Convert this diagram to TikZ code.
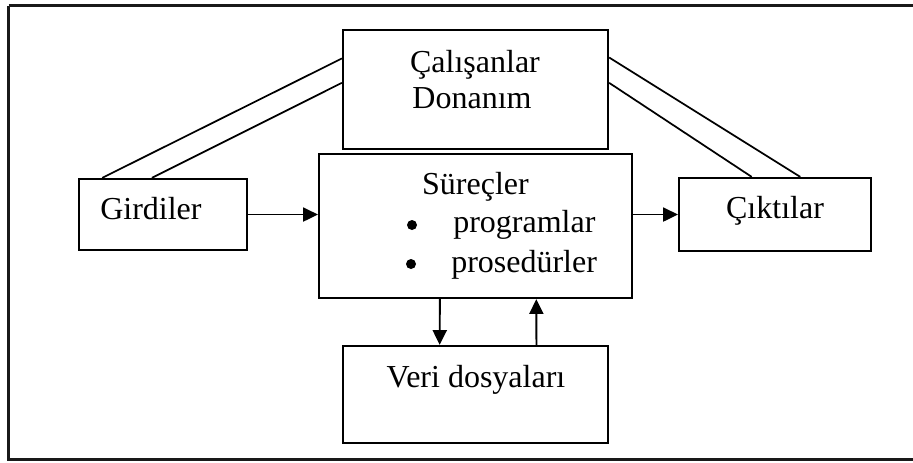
\documentclass[tikz,border=0pt]{standalone}
\usepackage{fontspec}
\setmainfont{Liberation Serif}
\usetikzlibrary{arrows.meta,calc}
\begin{document}
\begin{tikzpicture}[x=0.75pt,y=-0.75pt,
  box/.style={draw,line width=1.7pt,inner sep=0pt,rectangle},
  lbl/.style={inner sep=0pt,anchor=base,font=\fontsize{24}{28}\selectfont},
  dot/.style={circle,fill,inner sep=0pt,minimum size=7.5pt},
  link/.style={line width=1.3pt},
  flow/.style={line width=1.4pt,-{Triangle[length=11pt,width=10.5pt]}}]
  \useasboundingbox (0,0) rectangle (913,462);
  % outer frame, open past the right edge
  \draw[line width=2.2pt,black!90] (8.5,5.5) -- (925,5.5) (8.5,5.5) -- (8.5,459.5) -- (925,459.5);

  % boxes
  \node[box,minimum width=198.75pt,minimum height=89.25pt] (res) at (475.5,89.5) {};
  \node[box,minimum width=234.75pt,minimum height=108pt] (proc) at (475.5,226) {};
  \node[box,minimum width=126pt,minimum height=53.25pt] (inp) at (163,214.5) {};
  \node[box,minimum width=144pt,minimum height=54.75pt] (outp) at (775,214.5) {};
  \node[box,minimum width=198.75pt,minimum height=72.75pt] (data) at (475.5,394.5) {};

  % texts
  \node[lbl] (t1) at (475,72) {Çalışanlar};
  \node[lbl] (t2) at (472,108) {Donanım};
  \node[lbl] (t3) at (475.5,194) {Süreçler};
  \node[lbl,anchor=base west] (t4) at (453,232) {programlar};
  \node[lbl,anchor=base west] (t5) at (451,272) {prosedürler};
  \node[dot] (b1) at (412,225) {};
  \node[dot] (b2) at (411,264) {};
  \node[lbl,anchor=base west] (t6) at (100,219) {Girdiler};
  \node[lbl] (t7) at (775,218) {Çıktılar};
  \node[lbl] (t8) at (476,387) {Veri dosyaları};

  % double links from the resource box
  \draw[link] ($(res.north west)!0.244!(res.south west)$) -- ($(inp.north west)!0.143!(inp.north east)$);
  \draw[link] ($(res.north west)!0.445!(res.south west)$) -- ($(inp.north west)!0.435!(inp.north east)$);
  \draw[link] ($(res.north east)!0.236!(res.south east)$) -- ($(outp.north west)!0.63!(outp.north east)$);
  \draw[link] ($(res.north east)!0.445!(res.south east)$) -- ($(outp.north west)!0.38!(outp.north east)$);

  % flow arrows
  \draw[flow] (inp.east) -- (inp.east -| proc.west);
  \draw[flow] (outp.west -| proc.east) -- (outp.west);
  \draw[flow] ($(proc.south west)!0.387!(proc.south east)$) -- ($(data.north west)!0.366!(data.north east)$);
  \draw[flow] ($(data.north west)!0.728!(data.north east)$) -- ($(proc.south west)!0.693!(proc.south east)$);
\end{tikzpicture}
\end{document}
